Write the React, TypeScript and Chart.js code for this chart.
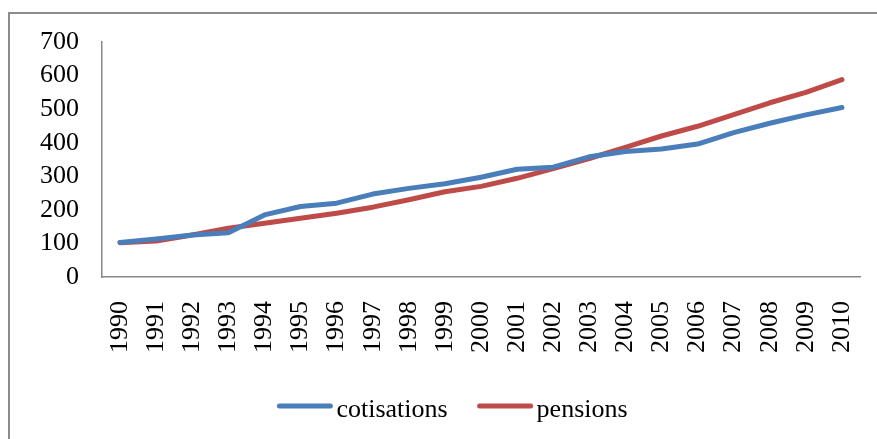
import { useEffect, useRef } from "react";
import { Chart, registerables } from "chart.js";

Chart.register(...registerables);

const years = [
  "1990", "1991", "1992", "1993", "1994", "1995", "1996", "1997", "1998", "1999", "2000",
  "2001", "2002", "2003", "2004", "2005", "2006", "2007", "2008", "2009", "2010",
];
const cotisations = [103, 113, 125, 132, 185, 210, 220, 247, 264, 278, 297, 321, 327, 358, 374, 381, 396, 430, 458, 483, 505];
const pensions = [102, 107, 125, 145, 160, 175, 190, 208, 230, 254, 270, 294, 323, 353, 386, 420, 449, 484, 519, 550, 588];
const seriesNames = ["cotisations", "pensions"];
const seriesColors = ["#4A7EBB", "#BE4B48"];
const yMin = 0;
const yMax = 700;
const yStep = 100;

const FONT = "'Liberation Serif', 'Times New Roman', serif";

const framePlugin = {
  id: "frame",
  beforeDraw(chart: any) {
    const ctx = chart.ctx;
    ctx.save();
    ctx.fillStyle = "#ffffff";
    ctx.fillRect(0, 0, chart.width, chart.height);
    ctx.strokeStyle = "#8c8c8c";
    ctx.lineWidth = 2;
    ctx.strokeRect(9, 13, chart.width + 20, chart.height + 20);
    ctx.restore();
  },
};

const legendPlugin = {
  id: "lineLegend",
  afterDraw(chart: any) {
    const ctx = chart.ctx;
    ctx.save();
    ctx.font = `26px ${FONT}`;
    const lineLen = 55;
    const gap = 4;
    const itemGap = 30;
    const items = chart.data.datasets.map((ds: any) => ({
      text: ds.label as string,
      color: ds.borderColor as string,
      w: ctx.measureText(ds.label).width,
    }));
    const total =
      items.reduce((s: number, it: any) => s + lineLen + gap + it.w, 0) + itemGap * (items.length - 1);
    let x = 452.5 - total / 2;
    const yLine = 406;
    const yText = 417;
    ctx.textBaseline = "alphabetic";
    ctx.textAlign = "left";
    for (const it of items) {
      ctx.strokeStyle = it.color;
      ctx.lineWidth = 5;
      ctx.lineCap = "round";
      ctx.beginPath();
      ctx.moveTo(x + 2, yLine);
      ctx.lineTo(x + lineLen - 2, yLine);
      ctx.stroke();
      ctx.fillStyle = "#000000";
      ctx.fillText(it.text, x + lineLen + gap, yText);
      x += lineLen + gap + it.w + itemGap;
    }
    ctx.restore();
  },
};

export default function App() {
  const ref = useRef<HTMLCanvasElement | null>(null);

  useEffect(() => {
    if (!ref.current) return;
    const chart = new Chart(ref.current, {
      type: "line",
      data: {
        labels: years,
        datasets: [
          {
            label: seriesNames[0],
            data: cotisations,
            borderColor: seriesColors[0],
            backgroundColor: seriesColors[0],
            borderWidth: 5,
            pointRadius: 0,
            tension: 0,
            borderCapStyle: "round",
            borderJoinStyle: "round",
          },
          {
            label: seriesNames[1],
            data: pensions,
            borderColor: seriesColors[1],
            backgroundColor: seriesColors[1],
            borderWidth: 5,
            pointRadius: 0,
            tension: 0,
            borderCapStyle: "round",
            borderJoinStyle: "round",
          },
        ],
      },
      options: {
        responsive: false,
        animation: false,
        devicePixelRatio: 1,
        layout: { padding: { top: 42, right: 17, left: 0, bottom: 0 } },
        plugins: {
          legend: { display: false },
          tooltip: { enabled: false },
        },
        scales: {
          x: {
            offset: true,
            grid: { display: false, drawTicks: false },
            border: { display: true, color: "#878787", width: 1.5 },
            ticks: {
              minRotation: 90,
              maxRotation: 90,
              autoSkip: false,
              padding: 24,
              color: "#000000",
              font: { family: FONT, size: 26 },
            },
            afterFit(scale: any) {
              scale.height = 162;
              scale.paddingLeft = 0;
              scale.paddingRight = 0;
            },
          },
          y: {
            min: yMin,
            max: yMax,
            grid: { display: false, drawTicks: false },
            border: { display: true, color: "#878787", width: 1.5 },
            ticks: {
              stepSize: yStep,
              autoSkip: false,
              padding: 23,
              color: "#000000",
              font: { family: FONT, size: 26 },
            },
            afterFit(scale: any) {
              scale.width = 102;
              scale.paddingTop = 0;
              scale.paddingBottom = 0;
            },
          },
        },
      },
      plugins: [framePlugin, legendPlugin],
    } as any);
    return () => chart.destroy();
  }, []);

  return (
    <div style={{ position: "fixed", left: 0, top: 0, width: 877, height: 439, overflow: "hidden", background: "#fff" }}>
      <canvas ref={ref} width={877} height={439} style={{ display: "block", width: 877, height: 439 }} />
    </div>
  );
}
